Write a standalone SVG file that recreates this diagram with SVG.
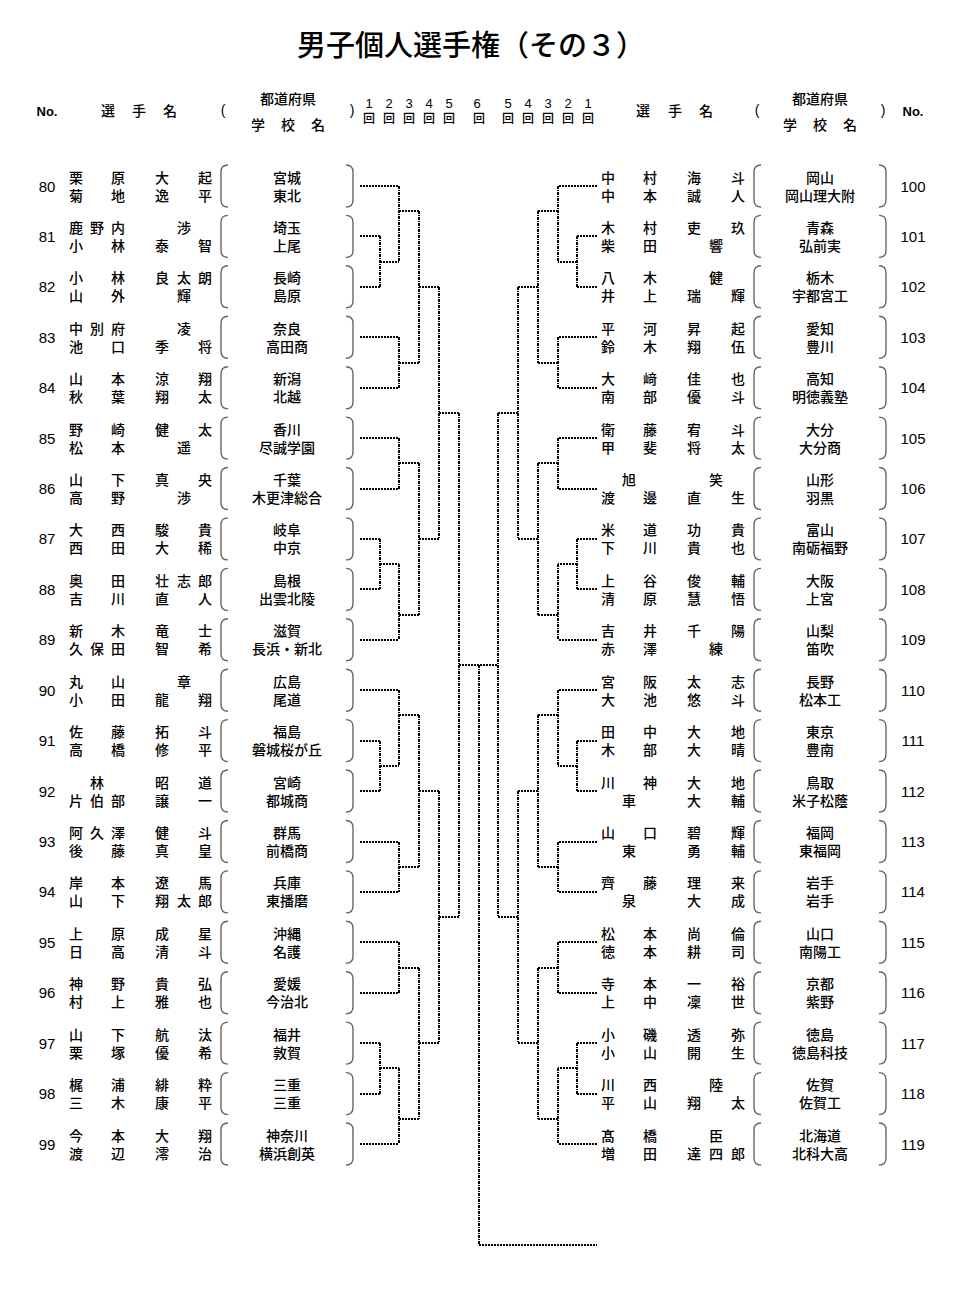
<svg xmlns="http://www.w3.org/2000/svg" xmlns:xlink="http://www.w3.org/1999/xlink" width="961" height="1304" viewBox="0 0 961 1304">
<style>
text{font-family:"Noto Sans CJK JP","Noto Sans CJK SC",sans-serif;fill:#000}
.t{font-size:29px;text-anchor:middle;font-weight:500}
.hd{font-size:14px;text-anchor:middle;font-weight:500}
.rd{font-family:"Liberation Sans",Arial,sans-serif;font-size:13px;text-anchor:middle}
.kai{font-size:12px;text-anchor:middle;font-weight:500}
.no{font-family:"Liberation Sans Narrow","Liberation Sans",Arial,sans-serif;font-size:13px;font-weight:bold;text-anchor:middle}
.n{font-size:14px;text-anchor:middle;font-weight:500}
.s{font-size:14px;text-anchor:middle;font-weight:500}
.num{font-family:"Liberation Sans Narrow","Liberation Sans",Arial,sans-serif;font-size:15px;text-anchor:middle}
.pa{fill:none;stroke:#666;stroke-width:1.4}
.h{fill:none;stroke:#000;stroke-width:2;stroke-dasharray:2 1}
.v{fill:none;stroke:#000;stroke-width:2;stroke-dasharray:3 1 1 1}
</style>
<defs>
<path id="pl" class="pa" d="M228,-21 Q221,-21 221,-14 V14 Q221,21 228,21 M346,-21 Q353,-21 353,-14 V14 Q353,21 346,21"/>
<path id="pr" class="pa" d="M761,-21 Q754,-21 754,-14 V14 Q754,21 761,21 M879,-21 Q886,-21 886,-14 V14 Q886,21 879,21"/>
</defs>
<rect width="961" height="1304" fill="#fff"/>
<text class="t" x="471" y="56">男子個人選手権（その３）</text>
<g id="header">
<text class="no" x="47" y="116">No.</text>
<text class="hd" x="108 139 170" y="116">選手名</text>
<text class="rd" x="223" y="115" style="font-size:14px">(</text>
<text class="hd" x="288" y="104">都道府県</text>
<text class="hd" x="258 288 318" y="130">学校名</text>
<text class="rd" x="352" y="115" style="font-size:14px">)</text>
<text class="rd" x="369 389 409 429 449 477" y="108">123456</text>
<text class="kai" x="369 389 409 429 449 479" y="123">回回回回回回</text>
<text class="rd" x="508 528 548 568 588" y="108">54321</text>
<text class="kai" x="508 528 548 568 588" y="123">回回回回回</text>
<text class="hd" x="643 675 706" y="116">選手名</text>
<text class="rd" x="757" y="115" style="font-size:14px">(</text>
<text class="hd" x="820" y="104">都道府県</text>
<text class="hd" x="790 820 850" y="130">学校名</text>
<text class="rd" x="883" y="115" style="font-size:14px">)</text>
<text class="no" x="913" y="116">No.</text>
</g>
<g id="connectors">
<path class="h" d="M360,186H399M360,236H380M360,287H380M380,262H399M399,211H419M360,337H399M360,388H399M399,363H419M419,287H439M360,438H399M360,489H399M399,463H419M360,539H380M360,589H380M380,564H399M360,640H399M399,615H419M419,539H439M439,413H459M360,690H399M360,741H380M360,791H380M380,766H399M399,715H419M360,842H399M360,892H399M399,867H419M419,791H439M360,942H399M360,993H399M399,968H419M360,1043H380M360,1094H380M380,1068H399M360,1144H399M399,1119H419M419,1043H439M439,917H459"/>
<path class="h" d="M597,186H558M597,236H577M597,287H577M577,262H558M558,211H538M597,337H558M597,388H558M558,363H538M538,287H518M597,438H558M597,489H558M558,463H538M597,539H577M597,589H577M577,564H558M597,640H558M558,615H538M538,539H518M518,413H498M597,690H558M597,741H577M597,791H577M577,766H558M558,715H538M597,842H558M597,892H558M558,867H538M538,791H518M597,942H558M597,993H558M558,968H538M597,1043H577M597,1094H577M577,1068H558M597,1144H558M558,1119H538M538,1043H518M518,917H498"/>
<path class="h" d="M459,665H498M479,1245H597"/>
<path class="v" d="M380,236V287M399,186V262M399,337V388M419,211V363M399,438V489M380,539V589M399,564V640M419,463V615M439,287V539M399,690V766M380,741V791M399,842V892M419,715V867M399,942V993M380,1043V1094M399,1068V1144M419,968V1119M439,791V1043M459,413V917"/>
<path class="v" d="M577,236V287M558,186V262M558,337V388M538,211V363M558,438V489M577,539V589M558,564V640M538,463V615M518,287V539M558,690V766M577,741V791M558,842V892M538,715V867M558,942V993M577,1043V1094M558,1068V1144M538,968V1119M518,791V1043M498,413V917"/>
<path class="v" d="M479,665V1245"/>
</g>
<g id="n80" transform="translate(0,186)"><text class="num" x="47" y="5.5">80</text><text class="n" x="76 118 162 205" y="-3.5">栗原大起</text><text class="n" x="76 118 162 205" y="14.5">菊地逸平</text><use xlink:href="#pl"/><text class="s" x="287" y="-3.5">宮城</text><text class="s" x="287" y="14.5">東北</text></g>
<g id="n81" transform="translate(0,236.4)"><text class="num" x="47" y="5.5">81</text><text class="n" x="76 97 118 184" y="-3.5">鹿野内渉</text><text class="n" x="76 118 162 205" y="14.5">小林泰智</text><use xlink:href="#pl"/><text class="s" x="287" y="-3.5">埼玉</text><text class="s" x="287" y="14.5">上尾</text></g>
<g id="n82" transform="translate(0,286.8)"><text class="num" x="47" y="5.5">82</text><text class="n" x="76 118 162 184 205" y="-3.5">小林良太朗</text><text class="n" x="76 118 184" y="14.5">山外輝</text><use xlink:href="#pl"/><text class="s" x="287" y="-3.5">長崎</text><text class="s" x="287" y="14.5">島原</text></g>
<g id="n83" transform="translate(0,337.3)"><text class="num" x="47" y="5.5">83</text><text class="n" x="76 97 118 184" y="-3.5">中別府凌</text><text class="n" x="76 118 162 205" y="14.5">池口季将</text><use xlink:href="#pl"/><text class="s" x="287" y="-3.5">奈良</text><text class="s" x="287" y="14.5">高田商</text></g>
<g id="n84" transform="translate(0,387.7)"><text class="num" x="47" y="5.5">84</text><text class="n" x="76 118 162 205" y="-3.5">山本涼翔</text><text class="n" x="76 118 162 205" y="14.5">秋葉翔太</text><use xlink:href="#pl"/><text class="s" x="287" y="-3.5">新潟</text><text class="s" x="287" y="14.5">北越</text></g>
<g id="n85" transform="translate(0,438.1)"><text class="num" x="47" y="5.5">85</text><text class="n" x="76 118 162 205" y="-3.5">野崎健太</text><text class="n" x="76 118 184" y="14.5">松本遥</text><use xlink:href="#pl"/><text class="s" x="287" y="-3.5">香川</text><text class="s" x="287" y="14.5">尽誠学園</text></g>
<g id="n86" transform="translate(0,488.5)"><text class="num" x="47" y="5.5">86</text><text class="n" x="76 118 162 205" y="-3.5">山下真央</text><text class="n" x="76 118 184" y="14.5">高野渉</text><use xlink:href="#pl"/><text class="s" x="287" y="-3.5">千葉</text><text class="s" x="287" y="14.5">木更津総合</text></g>
<g id="n87" transform="translate(0,538.9)"><text class="num" x="47" y="5.5">87</text><text class="n" x="76 118 162 205" y="-3.5">大西駿貴</text><text class="n" x="76 118 162 205" y="14.5">西田大稀</text><use xlink:href="#pl"/><text class="s" x="287" y="-3.5">岐阜</text><text class="s" x="287" y="14.5">中京</text></g>
<g id="n88" transform="translate(0,589.4)"><text class="num" x="47" y="5.5">88</text><text class="n" x="76 118 162 184 205" y="-3.5">奥田壮志郎</text><text class="n" x="76 118 162 205" y="14.5">吉川直人</text><use xlink:href="#pl"/><text class="s" x="287" y="-3.5">島根</text><text class="s" x="287" y="14.5">出雲北陵</text></g>
<g id="n89" transform="translate(0,639.8)"><text class="num" x="47" y="5.5">89</text><text class="n" x="76 118 162 205" y="-3.5">新木竜士</text><text class="n" x="76 97 118 162 205" y="14.5">久保田智希</text><use xlink:href="#pl"/><text class="s" x="287" y="-3.5">滋賀</text><text class="s" x="287" y="14.5">長浜・新北</text></g>
<g id="n90" transform="translate(0,690.2)"><text class="num" x="47" y="5.5">90</text><text class="n" x="76 118 184" y="-3.5">丸山章</text><text class="n" x="76 118 162 205" y="14.5">小田龍翔</text><use xlink:href="#pl"/><text class="s" x="287" y="-3.5">広島</text><text class="s" x="287" y="14.5">尾道</text></g>
<g id="n91" transform="translate(0,740.6)"><text class="num" x="47" y="5.5">91</text><text class="n" x="76 118 162 205" y="-3.5">佐藤拓斗</text><text class="n" x="76 118 162 205" y="14.5">高橋修平</text><use xlink:href="#pl"/><text class="s" x="287" y="-3.5">福島</text><text class="s" x="287" y="14.5">磐城桜が丘</text></g>
<g id="n92" transform="translate(0,791)"><text class="num" x="47" y="5.5">92</text><text class="n" x="97 162 205" y="-3.5">林昭道</text><text class="n" x="76 97 118 162 205" y="14.5">片伯部譲一</text><use xlink:href="#pl"/><text class="s" x="287" y="-3.5">宮崎</text><text class="s" x="287" y="14.5">都城商</text></g>
<g id="n93" transform="translate(0,841.5)"><text class="num" x="47" y="5.5">93</text><text class="n" x="76 97 118 162 205" y="-3.5">阿久澤健斗</text><text class="n" x="76 118 162 205" y="14.5">後藤真皇</text><use xlink:href="#pl"/><text class="s" x="287" y="-3.5">群馬</text><text class="s" x="287" y="14.5">前橋商</text></g>
<g id="n94" transform="translate(0,891.9)"><text class="num" x="47" y="5.5">94</text><text class="n" x="76 118 162 205" y="-3.5">岸本遼馬</text><text class="n" x="76 118 162 184 205" y="14.5">山下翔太郎</text><use xlink:href="#pl"/><text class="s" x="287" y="-3.5">兵庫</text><text class="s" x="287" y="14.5">東播磨</text></g>
<g id="n95" transform="translate(0,942.3)"><text class="num" x="47" y="5.5">95</text><text class="n" x="76 118 162 205" y="-3.5">上原成星</text><text class="n" x="76 118 162 205" y="14.5">日高清斗</text><use xlink:href="#pl"/><text class="s" x="287" y="-3.5">沖縄</text><text class="s" x="287" y="14.5">名護</text></g>
<g id="n96" transform="translate(0,992.7)"><text class="num" x="47" y="5.5">96</text><text class="n" x="76 118 162 205" y="-3.5">神野貴弘</text><text class="n" x="76 118 162 205" y="14.5">村上雅也</text><use xlink:href="#pl"/><text class="s" x="287" y="-3.5">愛媛</text><text class="s" x="287" y="14.5">今治北</text></g>
<g id="n97" transform="translate(0,1043.1)"><text class="num" x="47" y="5.5">97</text><text class="n" x="76 118 162 205" y="-3.5">山下航汰</text><text class="n" x="76 118 162 205" y="14.5">栗塚優希</text><use xlink:href="#pl"/><text class="s" x="287" y="-3.5">福井</text><text class="s" x="287" y="14.5">敦賀</text></g>
<g id="n98" transform="translate(0,1093.6)"><text class="num" x="47" y="5.5">98</text><text class="n" x="76 118 162 205" y="-3.5">梶浦緋粋</text><text class="n" x="76 118 162 205" y="14.5">三木康平</text><use xlink:href="#pl"/><text class="s" x="287" y="-3.5">三重</text><text class="s" x="287" y="14.5">三重</text></g>
<g id="n99" transform="translate(0,1144)"><text class="num" x="47" y="5.5">99</text><text class="n" x="76 118 162 205" y="-3.5">今本大翔</text><text class="n" x="76 118 162 205" y="14.5">渡辺澪治</text><use xlink:href="#pl"/><text class="s" x="287" y="-3.5">神奈川</text><text class="s" x="287" y="14.5">横浜創英</text></g>
<g id="n100" transform="translate(0,186)"><text class="n" x="608 650 694 738" y="-3.5">中村海斗</text><text class="n" x="608 650 694 738" y="14.5">中本誠人</text><use xlink:href="#pr"/><text class="s" x="820" y="-3.5">岡山</text><text class="s" x="820" y="14.5">岡山理大附</text><text class="num" x="913" y="5.5">100</text></g>
<g id="n101" transform="translate(0,236.4)"><text class="n" x="608 650 694 738" y="-3.5">木村吏玖</text><text class="n" x="608 650 716" y="14.5">柴田響</text><use xlink:href="#pr"/><text class="s" x="820" y="-3.5">青森</text><text class="s" x="820" y="14.5">弘前実</text><text class="num" x="913" y="5.5">101</text></g>
<g id="n102" transform="translate(0,286.8)"><text class="n" x="608 650 716" y="-3.5">八木健</text><text class="n" x="608 650 694 738" y="14.5">井上瑞輝</text><use xlink:href="#pr"/><text class="s" x="820" y="-3.5">栃木</text><text class="s" x="820" y="14.5">宇都宮工</text><text class="num" x="913" y="5.5">102</text></g>
<g id="n103" transform="translate(0,337.3)"><text class="n" x="608 650 694 738" y="-3.5">平河昇起</text><text class="n" x="608 650 694 738" y="14.5">鈴木翔伍</text><use xlink:href="#pr"/><text class="s" x="820" y="-3.5">愛知</text><text class="s" x="820" y="14.5">豊川</text><text class="num" x="913" y="5.5">103</text></g>
<g id="n104" transform="translate(0,387.7)"><text class="n" x="608 650 694 738" y="-3.5">大﨑佳也</text><text class="n" x="608 650 694 738" y="14.5">南部優斗</text><use xlink:href="#pr"/><text class="s" x="820" y="-3.5">高知</text><text class="s" x="820" y="14.5">明徳義塾</text><text class="num" x="913" y="5.5">104</text></g>
<g id="n105" transform="translate(0,438.1)"><text class="n" x="608 650 694 738" y="-3.5">衛藤宥斗</text><text class="n" x="608 650 694 738" y="14.5">甲斐将太</text><use xlink:href="#pr"/><text class="s" x="820" y="-3.5">大分</text><text class="s" x="820" y="14.5">大分商</text><text class="num" x="913" y="5.5">105</text></g>
<g id="n106" transform="translate(0,488.5)"><text class="n" x="629 716" y="-3.5">旭笑</text><text class="n" x="608 650 694 738" y="14.5">渡邊直生</text><use xlink:href="#pr"/><text class="s" x="820" y="-3.5">山形</text><text class="s" x="820" y="14.5">羽黒</text><text class="num" x="913" y="5.5">106</text></g>
<g id="n107" transform="translate(0,538.9)"><text class="n" x="608 650 694 738" y="-3.5">米道功貴</text><text class="n" x="608 650 694 738" y="14.5">下川貴也</text><use xlink:href="#pr"/><text class="s" x="820" y="-3.5">富山</text><text class="s" x="820" y="14.5">南砺福野</text><text class="num" x="913" y="5.5">107</text></g>
<g id="n108" transform="translate(0,589.4)"><text class="n" x="608 650 694 738" y="-3.5">上谷俊輔</text><text class="n" x="608 650 694 738" y="14.5">清原慧悟</text><use xlink:href="#pr"/><text class="s" x="820" y="-3.5">大阪</text><text class="s" x="820" y="14.5">上宮</text><text class="num" x="913" y="5.5">108</text></g>
<g id="n109" transform="translate(0,639.8)"><text class="n" x="608 650 694 738" y="-3.5">吉井千陽</text><text class="n" x="608 650 716" y="14.5">赤澤練</text><use xlink:href="#pr"/><text class="s" x="820" y="-3.5">山梨</text><text class="s" x="820" y="14.5">笛吹</text><text class="num" x="913" y="5.5">109</text></g>
<g id="n110" transform="translate(0,690.2)"><text class="n" x="608 650 694 738" y="-3.5">宮阪太志</text><text class="n" x="608 650 694 738" y="14.5">大池悠斗</text><use xlink:href="#pr"/><text class="s" x="820" y="-3.5">長野</text><text class="s" x="820" y="14.5">松本工</text><text class="num" x="913" y="5.5">110</text></g>
<g id="n111" transform="translate(0,740.6)"><text class="n" x="608 650 694 738" y="-3.5">田中大地</text><text class="n" x="608 650 694 738" y="14.5">木部大晴</text><use xlink:href="#pr"/><text class="s" x="820" y="-3.5">東京</text><text class="s" x="820" y="14.5">豊南</text><text class="num" x="913" y="5.5">111</text></g>
<g id="n112" transform="translate(0,791)"><text class="n" x="608 650 694 738" y="-3.5">川神大地</text><text class="n" x="629 694 738" y="14.5">車大輔</text><use xlink:href="#pr"/><text class="s" x="820" y="-3.5">鳥取</text><text class="s" x="820" y="14.5">米子松蔭</text><text class="num" x="913" y="5.5">112</text></g>
<g id="n113" transform="translate(0,841.5)"><text class="n" x="608 650 694 738" y="-3.5">山口碧輝</text><text class="n" x="629 694 738" y="14.5">東勇輔</text><use xlink:href="#pr"/><text class="s" x="820" y="-3.5">福岡</text><text class="s" x="820" y="14.5">東福岡</text><text class="num" x="913" y="5.5">113</text></g>
<g id="n114" transform="translate(0,891.9)"><text class="n" x="608 650 694 738" y="-3.5">齊藤理来</text><text class="n" x="629 694 738" y="14.5">泉大成</text><use xlink:href="#pr"/><text class="s" x="820" y="-3.5">岩手</text><text class="s" x="820" y="14.5">岩手</text><text class="num" x="913" y="5.5">114</text></g>
<g id="n115" transform="translate(0,942.3)"><text class="n" x="608 650 694 738" y="-3.5">松本尚倫</text><text class="n" x="608 650 694 738" y="14.5">徳本耕司</text><use xlink:href="#pr"/><text class="s" x="820" y="-3.5">山口</text><text class="s" x="820" y="14.5">南陽工</text><text class="num" x="913" y="5.5">115</text></g>
<g id="n116" transform="translate(0,992.7)"><text class="n" x="608 650 694 738" y="-3.5">寺本一裕</text><text class="n" x="608 650 694 738" y="14.5">上中凜世</text><use xlink:href="#pr"/><text class="s" x="820" y="-3.5">京都</text><text class="s" x="820" y="14.5">紫野</text><text class="num" x="913" y="5.5">116</text></g>
<g id="n117" transform="translate(0,1043.1)"><text class="n" x="608 650 694 738" y="-3.5">小磯透弥</text><text class="n" x="608 650 694 738" y="14.5">小山開生</text><use xlink:href="#pr"/><text class="s" x="820" y="-3.5">徳島</text><text class="s" x="820" y="14.5">徳島科技</text><text class="num" x="913" y="5.5">117</text></g>
<g id="n118" transform="translate(0,1093.6)"><text class="n" x="608 650 716" y="-3.5">川西陸</text><text class="n" x="608 650 694 738" y="14.5">平山翔太</text><use xlink:href="#pr"/><text class="s" x="820" y="-3.5">佐賀</text><text class="s" x="820" y="14.5">佐賀工</text><text class="num" x="913" y="5.5">118</text></g>
<g id="n119" transform="translate(0,1144)"><text class="n" x="608 650 716" y="-3.5">髙橋臣</text><text class="n" x="608 650 694 716 738" y="14.5">増田達四郎</text><use xlink:href="#pr"/><text class="s" x="820" y="-3.5">北海道</text><text class="s" x="820" y="14.5">北科大高</text><text class="num" x="913" y="5.5">119</text></g>
</svg>
